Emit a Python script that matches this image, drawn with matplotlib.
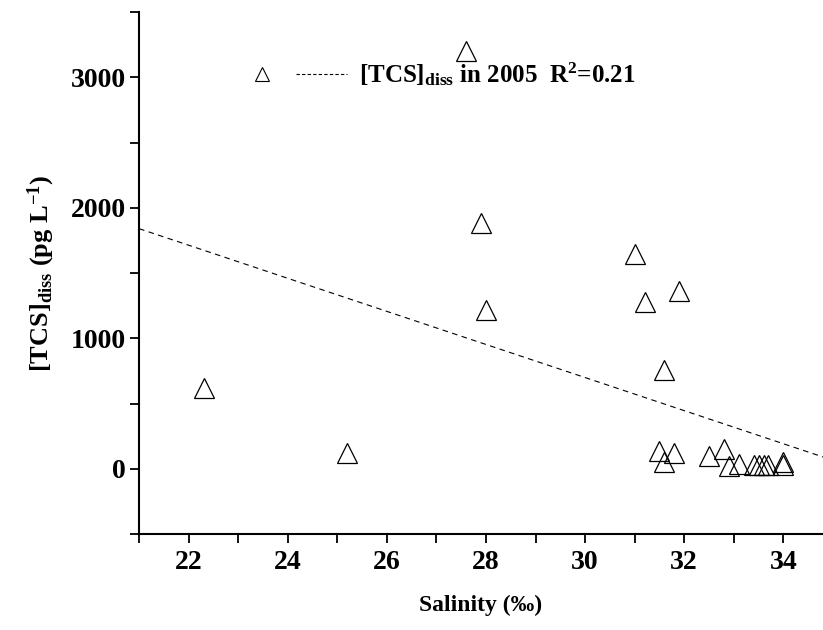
import numpy as np
import matplotlib
matplotlib.use('Agg')
import matplotlib.pyplot as plt
from matplotlib.lines import Line2D
from matplotlib.legend_handler import HandlerTuple
from matplotlib.ticker import MultipleLocator

plt.rcParams['font.family'] = ['Liberation Serif', 'DejaVu Serif']
plt.rcParams['font.weight'] = 'bold'
plt.rcParams['mathtext.fontset'] = 'custom'
plt.rcParams['mathtext.rm'] = 'Liberation Serif:bold'
plt.rcParams['mathtext.bf'] = 'Liberation Serif:bold'
plt.rcParams['mathtext.it'] = 'Liberation Serif:bold'
plt.rcParams['mathtext.default'] = 'bf'

# salinity (permil) vs dissolved TCS (pg/L), 2005
salinity = [22.3, 25.2, 27.6, 27.9, 28.0, 31.0, 31.2, 31.9, 31.6,
            31.5, 31.8, 31.6, 32.5, 32.8, 32.9, 33.1, 33.4, 33.5,
            33.6, 33.7, 34.0, 34.0]
tcs_diss = [620, 120, 3200, 1880, 1220, 1650, 1280, 1360, 760,
            140, 120, 50, 100, 150, 20, 40, 30, 30,
            30, 30, 30, 50]

# linear fit
fit_intercept = 4501.0
fit_slope = -126.7
r2 = 0.21

fig = plt.figure(figsize=(8.23, 6.3), dpi=100)
ax = fig.add_axes([0.169, 0.152, 0.831, 0.829])

sc, = ax.plot(salinity, tcs_diss, linestyle='none', marker='^', markersize=15,
              markerfacecolor='none', markeredgecolor='black', markeredgewidth=0.9)

xs = np.array([21, 34.8])
ln, = ax.plot(xs, fit_intercept + fit_slope * xs, color='black', lw=0.8,
              dashes=(5, 4))

ax.set_xlim(21, 34.8)
ax.set_ylim(-500, 3500)
ax.xaxis.set_major_locator(MultipleLocator(2))
ax.xaxis.set_minor_locator(MultipleLocator(1))
ax.yaxis.set_major_locator(MultipleLocator(1000))
ax.yaxis.set_minor_locator(MultipleLocator(500))

for s in ['top', 'right']:
    ax.spines[s].set_visible(False)
for s in ['left', 'bottom']:
    ax.spines[s].set_linewidth(1.5)
ax.tick_params(which='both', direction='out', length=6.5, width=1.3, labelsize=20)
ax.tick_params(axis='x', pad=5)
ax.tick_params(axis='y', pad=3)
for lbl in ax.get_xticklabels() + ax.get_yticklabels():
    lbl.set_fontweight('bold')

ax.set_xlabel('Salinity (\u2030)', fontsize=17, fontweight='bold', labelpad=14)
ax.set_ylabel(r'[TCS]$_{\mathbf{diss}}$ (pg L$^{\mathbf{-1}}$)', fontsize=19,
              fontweight='bold', labelpad=10)

leg_marker = Line2D([], [], linestyle='none', marker='^', markersize=10,
                    markerfacecolor='none', markeredgecolor='black', markeredgewidth=0.8)
leg_line = Line2D([], [], color='black', lw=0.8, dashes=(3, 2))
ax.legend([(leg_marker, leg_line)],
          [r'[TCS]$_{\mathbf{diss}}$ in 2005  R$^{\mathbf{2}}$=' + f'{r2:.2f}'],
          handler_map={tuple: HandlerTuple(ndivide=None, pad=0.3)},
          handlelength=4.4, handletextpad=0.5, frameon=False, fontsize=18,
          loc='upper left', bbox_to_anchor=(0.11, 0.95))

fig.savefig('out.png', dpi=100)
